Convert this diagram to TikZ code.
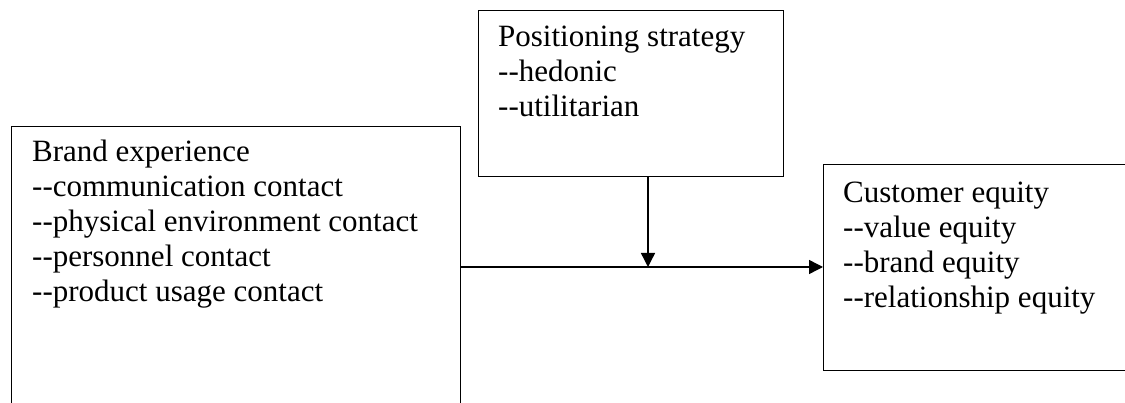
\documentclass[tikz,border=0pt]{standalone}
\usepackage{fontspec}
\setmainfont{Liberation Serif}[Ligatures=TeXOff]
\usetikzlibrary{arrows.meta,calc}
\tikzset{
  box/.style={draw, line width=1.4pt, rectangle, inner sep=0pt, anchor=north west},
  txt/.style={anchor=base west, inner sep=0pt, align=left},
  conn/.style={line width=1.4pt, -{Triangle[length=14pt,width=14pt]}},
}
\begin{document}
\begin{tikzpicture}[x=1pt,y=-1pt]
\useasboundingbox (0,0) rectangle (1125,403);
\clip (0,0) rectangle (1125,403);
\fontsize{31}{35}\selectfont
\node[box, minimum width=449pt, minimum height=300pt] (brand) at (11,126) {};
\node[box, minimum width=305pt, minimum height=166pt] (pos) at (478,10) {};
\node[box, minimum width=320pt, minimum height=206pt] (cust) at (823,164) {};
\node[txt] (brandtxt) at (32,162) {\begin{tabular}[t]{@{}l@{}}Brand experience\\--communication contact\\--physical environment contact\\--personnel contact\\--product usage contact\end{tabular}};
\node[txt] (postxt) at (498,47) {\begin{tabular}[t]{@{}l@{}}Positioning strategy\\--hedonic\\--utilitarian\end{tabular}};
\node[txt] (custtxt) at (843,203) {\begin{tabular}[t]{@{}l@{}}Customer equity\\--value equity\\--brand equity\\--relationship equity\end{tabular}};
\coordinate (mid) at (648,267);
\draw[conn] (brand.east |- mid) -- (cust.west |- mid);
\draw[conn] (pos.south -| mid) -- (mid);
\end{tikzpicture}
\end{document}
